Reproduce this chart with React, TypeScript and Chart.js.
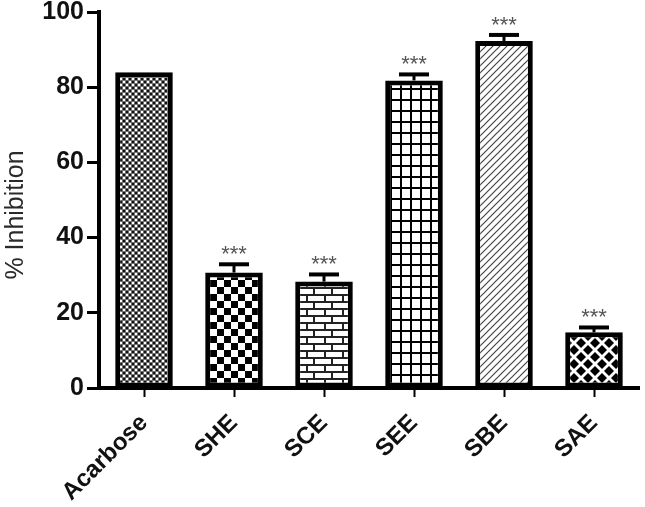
import React, { useEffect, useRef } from 'react';
import { Chart, registerables } from 'chart.js';

Chart.register(...registerables);

const categories = ['Acarbose', 'SHE', 'SCE', 'SEE', 'SBE', 'SAE'];
const inhibition = [84.0, 30.7, 28.3, 81.8, 92.3, 14.8];
const errorValues = [0, 2.2, 1.9, 1.6, 1.6, 1.3];
const significance = ['', '***', '***', '***', '***', '***'];
const yMin = 0;
const yMax = 100;
const yStep = 20;
const yTitle = '% Inhibition';

const FONT = '"Liberation Sans", Arial, Helvetica, sans-serif';

function tile(w: number, h: number, draw: (g: CanvasRenderingContext2D) => void): CanvasPattern {
  const c = document.createElement('canvas');
  c.width = w;
  c.height = h;
  const g = c.getContext('2d') as CanvasRenderingContext2D;
  draw(g);
  return g.createPattern(c, 'repeat') as CanvasPattern;
}

function makePatterns(): CanvasPattern[] {
  const dots = tile(6, 6, (g) => {
    g.fillStyle = '#707070';
    g.fillRect(0, 0, 6, 6);
    g.fillStyle = '#ffffff';
    g.fillRect(0, 0, 2, 2);
    g.fillRect(3, 3, 2, 2);
    g.fillStyle = '#111111';
    g.fillRect(3, 0, 2, 2);
    g.fillRect(0, 3, 2, 2);
  });
  const checker = tile(14, 14, (g) => {
    g.fillStyle = '#ffffff';
    g.fillRect(0, 0, 14, 14);
    g.fillStyle = '#000000';
    g.fillRect(0, 0, 7, 7);
    g.fillRect(7, 7, 7, 7);
  });
  const brick = tile(18, 14, (g) => {
    g.fillStyle = '#222222';
    g.fillRect(0, 0, 18, 14);
    g.fillStyle = '#ffffff';
    g.fillRect(2, 2, 16, 5);
    g.fillRect(0, 9, 7, 5);
    g.fillRect(9, 9, 9, 5);
  });
  const grid = tile(10, 11, (g) => {
    g.fillStyle = '#ffffff';
    g.fillRect(0, 0, 10, 11);
    g.fillStyle = '#000000';
    g.fillRect(0, 0, 2, 11);
    g.fillRect(0, 0, 10, 2);
  });
  const hatch = tile(7, 7, (g) => {
    g.fillStyle = '#ffffff';
    g.fillRect(0, 0, 7, 7);
    g.strokeStyle = '#444444';
    g.lineWidth = 1.2;
    g.beginPath();
    g.moveTo(-1, 8);
    g.lineTo(8, -1);
    g.moveTo(-2, 2);
    g.lineTo(2, -2);
    g.moveTo(5, 9);
    g.lineTo(9, 5);
    g.stroke();
  });
  const diamonds = tile(14, 14, (g) => {
    g.fillStyle = '#ffffff';
    g.fillRect(0, 0, 14, 14);
    g.fillStyle = '#000000';
    const d = (cx: number, cy: number, r: number) => {
      g.beginPath();
      g.moveTo(cx, cy - r);
      g.lineTo(cx + r, cy);
      g.lineTo(cx, cy + r);
      g.lineTo(cx - r, cy);
      g.closePath();
      g.fill();
    };
    d(7, 7, 5);
    d(0, 0, 5);
    d(14, 0, 5);
    d(0, 14, 5);
    d(14, 14, 5);
  });
  return [dots, checker, brick, grid, hatch, diamonds];
}

const errorBarPlugin = {
  id: 'errorBars',
  afterDatasetsDraw(chart: any) {
    const ctx = chart.ctx as CanvasRenderingContext2D;
    const meta = chart.getDatasetMeta(0);
    const yScale = chart.scales.y;
    ctx.save();
    meta.data.forEach((bar: any, i: number) => {
      const err = errorValues[i];
      const top = yScale.getPixelForValue(inhibition[i] + err);
      const x = bar.x;
      if (err > 0) {
        ctx.strokeStyle = '#000';
        ctx.lineWidth = 3;
        ctx.beginPath();
        ctx.moveTo(x, bar.y);
        ctx.lineTo(x, top);
        ctx.stroke();
        ctx.lineWidth = 4;
        ctx.beginPath();
        ctx.moveTo(x - 15, top);
        ctx.lineTo(x + 15, top);
        ctx.stroke();
      }
      if (significance[i]) {
        ctx.fillStyle = '#555';
        ctx.font = `22px ${FONT}`;
        ctx.textAlign = 'center';
        ctx.textBaseline = 'alphabetic';
        ctx.fillText(significance[i], x, top - 3);
      }
    });
    ctx.restore();
  },
};

const yTitlePlugin = {
  id: 'yTitle',
  afterDraw(chart: any) {
    const ctx = chart.ctx as CanvasRenderingContext2D;
    ctx.save();
    ctx.translate(16, 215);
    ctx.rotate(-Math.PI / 2);
    ctx.fillStyle = '#2a2a2a';
    ctx.font = `25px ${FONT}`;
    ctx.textAlign = 'center';
    ctx.textBaseline = 'middle';
    ctx.fillText(yTitle, 0, 0);
    ctx.restore();
  },
};

export default function App() {
  const canvasRef = useRef<HTMLCanvasElement | null>(null);

  useEffect(() => {
    const canvas = canvasRef.current;
    if (!canvas) return;
    const patterns = makePatterns();
    const chart = new Chart(canvas, {
      type: 'bar',
      data: {
        labels: categories,
        datasets: [
          {
            data: inhibition,
            backgroundColor: patterns as any,
            borderColor: '#000',
            borderWidth: 5,
            borderSkipped: false,
            categoryPercentage: 1,
            barPercentage: 0.64,
          },
        ],
      },
      options: {
        animation: false,
        responsive: false,
        devicePixelRatio: 1,
        layout: { padding: { left: 0, top: 12, right: 6, bottom: 0 } },
        plugins: { legend: { display: false }, tooltip: { enabled: false } },
        scales: {
          x: {
            grid: {
              display: true,
              drawOnChartArea: false,
              offset: false,
              tickLength: 9,
              tickWidth: 2,
              tickColor: '#000',
            },
            border: { display: true, width: 4, color: '#000' },
            ticks: {
              autoSkip: false,
              maxRotation: 45,
              minRotation: 45,
              padding: 12,
              color: '#111',
              font: { family: FONT, size: 24, weight: 'bold' },
            },
            afterFit: (s: any) => {
              s.height = 119;
              s.paddingLeft = 0;
              s.paddingRight = 0;
            },
          },
          y: {
            min: yMin,
            max: yMax,
            grid: {
              display: true,
              drawOnChartArea: false,
              tickLength: 12,
              tickWidth: 3,
              tickColor: '#000',
            },
            border: { display: true, width: 4, color: '#000' },
            ticks: {
              stepSize: yStep,
              padding: 3,
              color: '#111',
              font: { family: FONT, size: 25, weight: 'bold' },
            },
            afterFit: (s: any) => {
              s.width = 99;
              s.paddingTop = 0;
              s.paddingBottom = 0;
            },
          },
        },
      } as any,
      plugins: [errorBarPlugin, yTitlePlugin],
    });
    return () => chart.destroy();
  }, []);

  return (
    <div style={{ position: 'fixed', left: 0, top: 0, width: 645, height: 507, background: '#fff' }}>
      <canvas ref={canvasRef} width={645} height={507} style={{ width: 645, height: 507 }} />
    </div>
  );
}
